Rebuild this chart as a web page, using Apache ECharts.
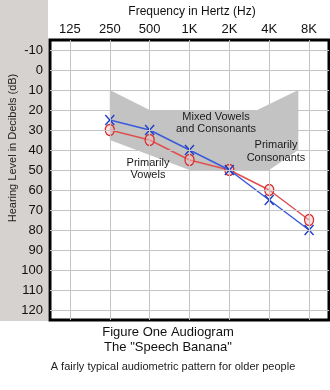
<!DOCTYPE html>
<html><head><meta charset="utf-8">
<script src="https://cdn.jsdelivr.net/npm/echarts@6/dist/echarts.min.js"></script>
<style>html,body{margin:0;padding:0;background:#fff}#c{width:330px;height:390px}</style>
</head><body><div id="c"></div>
<script>
// ---- data ----
const frequencies = ['125', '250', '500', '1K', '2K', '4K', '8K'];
const dbTicks = [-10, 0, 10, 20, 30, 40, 50, 60, 70, 80, 90, 100, 110, 120];
const rightEarO = [null, 30, 35, 45, 50, 60, 75];
const leftEarX = [null, 25, 30, 40, 50, 65, 80];
// speech banana outline: [frequency index, dB]
const bananaOutline = [[1, 10], [2, 20], [4.7, 20], [5.73, 10], [5.73, 40], [5, 50], [3, 50], [1, 35]];

const FONT = '"Liberation Sans", Arial, sans-serif';
const toPairs = arr => arr.map((v, i) => v == null ? null : [i, v]).filter(Boolean);

const chart = echarts.init(document.getElementById('c'), null, { renderer: 'canvas' });
chart.setOption({
  animation: false,
  backgroundColor: '#fff',
  grid: { left: 50, top: 40, width: 279, height: 280, show: true, borderColor: '#000', borderWidth: 3, backgroundColor: '#fff' },
  xAxis: {
    type: 'value', position: 'top', min: -0.5, max: 6.5,
    splitLine: { show: false }, axisLine: { show: false }, axisTick: { show: false },
    axisLabel: {
      customValues: frequencies.map((f, i) => i),
      formatter: v => frequencies[Math.round(v)],
      fontSize: 13, color: '#111', margin: 4, fontFamily: FONT
    }
  },
  yAxis: {
    type: 'value', inverse: true, min: -15, max: 125,
    splitLine: { show: false }, axisLine: { show: false }, axisTick: { show: false },
    axisLabel: { customValues: dbTicks, fontSize: 13, color: '#111', margin: 7, fontFamily: FONT }
  },
  series: [
    {
      type: 'line', data: [[0, -15]], showSymbol: false, silent: true, z: 1,
      lineStyle: { opacity: 0 },
      markLine: {
        silent: true, symbol: 'none', label: { show: false },
        lineStyle: { color: '#c4c4c4', width: 1, type: 'solid' },
        emphasis: { disabled: true },
        data: [
          ...frequencies.map((f, i) => ({ xAxis: i })),
          ...dbTicks.map(d => ({ yAxis: d }))
        ]
      }
    },
    {
      type: 'custom', z: 2, silent: true, data: bananaOutline,
      renderItem: (params, api) => {
        if (params.dataIndex !== 0) return null;
        const pts = bananaOutline.map(p => api.coord(p));
        return { type: 'polygon', shape: { points: pts }, style: { fill: '#c3c3c3' } };
      }
    },
    {
      name: 'O', type: 'line', z: 3, data: toPairs(rightEarO),
      symbol: 'circle', symbolSize: [9, 11], showSymbol: true,
      lineStyle: { color: '#e05050', width: 1.5 },
      itemStyle: { color: 'rgba(255,190,190,0.45)', borderColor: '#d42a2a', borderWidth: 1.3 }
    },
    {
      name: 'X', type: 'line', z: 4, data: toPairs(leftEarX),
      symbol: 'path://M0,0L10,11M10,0L0,11', symbolSize: [9, 10], showSymbol: true,
      lineStyle: { color: '#3a5bd9', width: 1.5 },
      itemStyle: { color: 'none', borderColor: '#1f3cc4', borderWidth: 1.5 }
    }
  ],
  graphic: [
    { type: 'rect', z: -100, silent: true, shape: { x: 0, y: 0, width: 48, height: 321 }, style: { fill: '#d5d2cf' } },
    { type: 'text', z: 100, x: 192, y: 12, style: { text: 'Frequency in Hertz (Hz)', fontSize: 12, fontFamily: FONT, fill: '#111', align: 'center', verticalAlign: 'middle' } },
    { type: 'text', z: 100, x: 13, y: 148, rotation: Math.PI / 2, style: { text: 'Hearing Level in Decibels (dB)', fontSize: 11, fontFamily: FONT, fill: '#222', align: 'center', verticalAlign: 'middle' } },
    { type: 'text', z: 100, x: 216, y: 123, style: { text: 'Mixed Vowels\nand Consonants', fontSize: 11, lineHeight: 12.5, fontFamily: FONT, fill: '#1a1a1a', align: 'center', verticalAlign: 'middle' } },
    { type: 'text', z: 100, x: 148, y: 169, style: { text: 'Primarily\nVowels', fontSize: 11, lineHeight: 12.5, fontFamily: FONT, fill: '#1a1a1a', align: 'center', verticalAlign: 'middle' } },
    { type: 'text', z: 100, x: 276, y: 151.5, style: { text: 'Primarily\nConsonants', fontSize: 11, lineHeight: 13, fontFamily: FONT, fill: '#1a1a1a', align: 'center', verticalAlign: 'middle' } },
    { type: 'text', z: 100, x: 168, y: 339.5, style: { text: 'Figure One Audiogram\nThe "Speech Banana"', fontSize: 13, lineHeight: 15, fontFamily: FONT, fill: '#111', align: 'center', verticalAlign: 'middle' } },
    { type: 'text', z: 100, x: 173, y: 367, style: { text: 'A fairly typical audiometric pattern for older people', fontSize: 11, fontFamily: FONT, fill: '#222', align: 'center', verticalAlign: 'middle' } }
  ]
});
</script>
</body></html>
